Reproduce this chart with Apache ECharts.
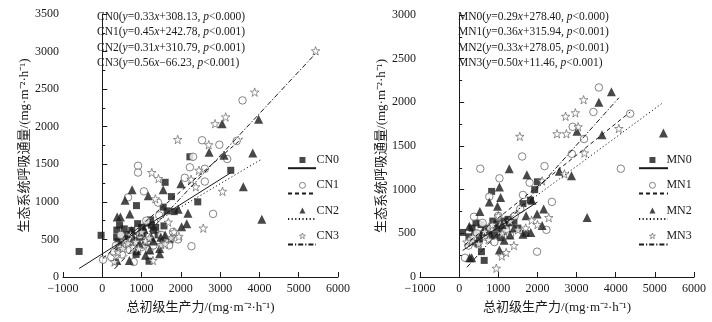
<!DOCTYPE html>
<html>
<head>
<meta charset="utf-8">
<script src="https://cdn.jsdelivr.net/npm/echarts@6/dist/echarts.min.js"></script>
<style>
  html, body { margin: 0; padding: 0; background: #fff; }
  #chart { width: 712px; height: 322px; }
</style>
</head>
<body>
<div id="chart"></div>
<script>
// groups: left panel CN*, right panel MN*
const cnNames = ['CN0', 'CN1', 'CN2', 'CN3']
const mnNames = ['MN0', 'MN1', 'MN2', 'MN3']

// regression coefficients
const cnSlope = [0.33, 0.45, 0.31, 0.56]
const cnIntercept = [308.13, 242.78, 310.79, -66.23]
const cnP = ['0.000', '0.001', '0.001', '0.001']
const mnSlope = [0.29, 0.36, 0.33, 0.50]
const mnIntercept = [278.40, 315.94, 278.05, 11.46]
const mnP = ['0.000', '0.001', '0.001', '0.001']

// [GPP, Re] points
const cn0 = [[-590,340],[-30,555],[370,625],[365,530],[400,470],[440,690],[520,560],[560,640],[610,510],[650,430],[700,570],[750,620],[790,480],[870,950],[860,300],[900,710],[950,530],[1000,660],[1040,600],[1100,460],[1150,720],[1190,210],[1230,760],[1250,690],[1300,620],[1360,660],[1420,560],[1550,460],[1570,680],[1550,930],[1600,1260],[1650,880],[1720,490],[1760,1070],[1830,870],[2230,1600],[2430,1000],[3270,1420]]
const cn1 = [[20,230],[230,265],[300,330],[350,420],[420,380],[470,560],[500,300],[560,460],[610,420],[655,1060],[700,360],[740,480],[800,200],[850,420],[910,1480],[910,1390],[960,560],[1000,400],[1060,1140],[1120,750],[1160,480],[1200,360],[1300,420],[1420,990],[1450,820],[1500,560],[1600,480],[1700,420],[1800,600],[1930,500],[2100,1320],[2230,1460],[2270,410],[2310,1600],[2540,1820],[2610,1440],[2610,1270],[2820,840],[2980,1760],[3180,1570],[3420,1810],[3570,2350]]
const cn2 = [[370,220],[380,800],[440,420],[460,800],[570,500],[580,1020],[690,220],[700,840],[750,620],[760,1160],[800,520],[880,350],[950,440],[1000,600],[1060,640],[1100,290],[1170,1080],[1210,360],[1250,530],[1300,480],[1460,310],[1460,380],[1490,530],[1550,1160],[1600,560],[1930,900],[2000,1240],[2020,670],[2150,710],[2180,850],[2720,1660],[3050,2040],[3100,1620],[3590,1200],[3830,1650],[3980,2100],[4060,770]]
const cn3 = [[310,200],[350,280],[400,330],[450,400],[520,380],[560,480],[650,450],[720,560],[780,400],[850,470],[920,380],[1000,600],[1100,480],[1200,520],[1260,1390],[1290,220],[1350,1040],[1430,1310],[1500,430],[1600,440],[1680,730],[1750,520],[1830,600],[1920,1830],[1950,540],[2260,1300],[2380,1200],[2460,1420],[2570,650],[2710,1760],[2870,2040],[3060,1140],[3140,2130],[3880,2460],[5430,3010]]

const mn0 = [[90,510],[250,460],[300,400],[330,560],[400,500],[430,620],[480,380],[520,440],[560,600],[570,290],[620,480],[640,190],[700,560],[760,520],[830,980],[860,640],[900,480],[950,560],[1000,610],[1050,450],[1100,520],[1150,640],[1200,580],[1250,660],[1300,620],[1400,640],[1500,560],[1630,840],[1700,500],[1820,880],[1930,1000],[2000,1090]]
const mn1 = [[150,220],[240,360],[300,420],[380,690],[450,500],[540,1240],[600,620],[680,460],[770,920],[800,560],[900,400],[1000,700],[1030,1130],[1100,600],[1200,540],[1300,480],[1420,700],[1560,780],[1610,1380],[1630,940],[1800,1080],[1990,290],[2180,1270],[2230,540],[2370,860],[2880,1410],[2900,1720],[3190,1580],[3430,1890],[3570,2170],[4130,1240],[4370,1870]]
const mn2 = [[260,580],[270,220],[320,220],[530,750],[600,520],[770,860],[800,480],[980,810],[1030,1030],[1030,310],[1060,910],[1100,600],[1150,420],[1280,1240],[1300,480],[1400,560],[1630,490],[1710,700],[1730,1170],[1830,510],[1860,880],[1990,720],[2120,590],[2160,780],[2560,1210],[2870,1160],[3010,1670],[3270,680],[3570,2000],[3650,1630],[3890,2120],[5220,1650]]
const mn3 = [[200,400],[350,460],[500,380],[650,520],[750,430],[850,600],[950,100],[1000,700],[1090,240],[1100,500],[1200,280],[1300,640],[1400,360],[1500,540],[1550,1610],[1700,560],[1850,650],[2000,600],[2120,1100],[2290,680],[2500,1640],[2690,1180],[2720,1840],[2740,1640],[2970,1880],[3040,1720],[3180,2030],[3200,1420],[4080,1700]]

const xTicks = { min: -1000, max: 6000, interval: 1000 }
const yMaxLeft = 3500
const yMaxRight = 3000

const serif = '"Liberation Serif", "Times New Roman", "Noto Sans CJK SC", serif'
const ink = '#1a1a1a'
const starPath = 'path://M0,-10L2.35,-3.24L9.51,-3.09L3.8,1.24L5.88,8.09L0,4L-5.88,8.09L-3.8,1.24L-9.51,-3.09L-2.35,-3.24Z'

const markers = [
  { symbol: 'rect', size: 7, itemStyle: { color: ink } },
  { symbol: 'circle', size: 7.5, itemStyle: { color: '#fff', borderColor: '#555', borderWidth: 0.9 } },
  { symbol: 'triangle', size: 9, itemStyle: { color: ink } },
  { symbol: starPath, size: 8.5, itemStyle: { color: '#fff', borderColor: '#555', borderWidth: 0.8 } }
]
const lineTypes = ['solid', [4, 3], [1.2, 2.4], [5, 2, 1.2, 2]]

function plain(v) { return String(v).replace('-', '−') }

function eqText(names, slope, intercept, p) {
  return names.map((n, i) => {
    const b = intercept[i]
    const sign = b >= 0 ? '+' : '−'
    return `${n}({i|y}=${slope[i].toFixed(2)}{i|x}${sign}${Math.abs(b).toFixed(2)}, {i|p}<${p[i]})`
  }).join('\n')
}

function fitLine(pts, a, b) {
  const xs = pts.map(d => d[0])
  const x0 = Math.min(...xs), x1 = Math.max(...xs)
  return [[x0, a * x0 + b], [x1, a * x1 + b]]
}

function panelSeries(names, groups, slope, intercept, idx) {
  const out = []
  groups.forEach((pts, i) => {
    out.push({
      name: names[i], type: 'scatter', xAxisIndex: idx, yAxisIndex: idx,
      symbol: markers[i].symbol, symbolSize: markers[i].size,
      itemStyle: markers[i].itemStyle, data: pts, z: 3
    })
  })
  groups.forEach((pts, i) => {
    out.push({
      name: names[i] + ' fit', type: 'line', xAxisIndex: idx, yAxisIndex: idx,
      symbol: 'none', silent: true, z: 4, color: ink,
      lineStyle: { color: ink, width: 1, type: lineTypes[i] },
      data: fitLine(pts, slope[i], intercept[i])
    })
  })
  return out
}

const unit = '/(mg·m⁻²·h⁻¹)'
function xAxisOf(idx) {
  return {
    gridIndex: idx, type: 'value', ...xTicks,
    name: '总初级生产力' + unit, nameLocation: 'middle', nameGap: 24,
    nameTextStyle: { fontFamily: serif, fontSize: 13, color: ink },
    axisLine: { lineStyle: { color: ink, width: 1 } },
    axisTick: { inside: true, length: 5, lineStyle: { color: ink } },
    axisLabel: { fontFamily: serif, fontSize: 12, color: ink, margin: 6, formatter: plain },
    splitLine: { show: false }
  }
}
function yAxisOf(idx, max) {
  return {
    gridIndex: idx, type: 'value', min: 0, max: max, interval: 500,
    name: '生态系统呼吸通量' + unit, nameLocation: 'middle', nameRotate: 90, nameGap: 30,
    nameTextStyle: { fontFamily: serif, fontSize: 13, color: ink },
    axisLine: { show: true, lineStyle: { color: ink, width: 1 } },
    axisTick: { inside: true, length: 5, lineStyle: { color: ink } },
    minorTick: { show: true, splitNumber: 2, length: 3, lineStyle: { color: ink } },
    axisLabel: { fontFamily: serif, fontSize: 12, color: ink, margin: 4, formatter: plain },
    splitLine: { show: false }
  }
}

function legendPair(names, symLeft, lineLeft, lineW) {
  return [
    {
      data: names.map((n, i) => ({ name: n, itemStyle: markers[i].itemStyle })),
      orient: 'vertical', left: symLeft, top: 149,
      itemWidth: 6, itemHeight: 6, itemGap: 13.3,
      textStyle: { fontFamily: serif, fontSize: 12, color: ink, padding: [0, 0, 0, 6] }
    },
    {
      data: names.map(n => n + ' fit'), orient: 'vertical', left: lineLeft, top: 160,
      itemWidth: lineW, itemHeight: 8, itemGap: 19,
      itemStyle: { opacity: 0 },
      formatter: () => '',
      textStyle: { fontSize: 1, lineHeight: 8 }
    }
  ]
}

const richI = { i: { fontFamily: serif, fontSize: 11.5, fontStyle: 'italic', color: ink } }

const chart = echarts.init(document.getElementById('chart'), null, { renderer: 'canvas' })
chart.setOption({
  animation: false,
  backgroundColor: '#fff',
  title: [
    { text: eqText(cnNames, cnSlope, cnIntercept, cnP), left: 97, top: 9, padding: 0,
      textStyle: { fontFamily: serif, fontSize: 11.5, fontWeight: 'normal', color: ink, lineHeight: 15.5, rich: richI } },
    { text: eqText(mnNames, mnSlope, mnIntercept, mnP), left: 458, top: 9, padding: 0,
      textStyle: { fontFamily: serif, fontSize: 11.5, fontWeight: 'normal', color: ink, lineHeight: 15.5, rich: richI } }
  ],
  legend: [
    ...legendPair(cnNames, 294, 282, 28),
    ...legendPair(mnNames, 644, 633, 29)
  ],
  grid: [
    { left: 63, top: 14, width: 275, height: 263 },
    { left: 420, top: 15, width: 274, height: 262 }
  ],
  xAxis: [xAxisOf(0), xAxisOf(1)],
  yAxis: [yAxisOf(0, yMaxLeft), yAxisOf(1, yMaxRight)],
  series: [
    ...panelSeries(cnNames, [cn0, cn1, cn2, cn3], cnSlope, cnIntercept, 0),
    ...panelSeries(mnNames, [mn0, mn1, mn2, mn3], mnSlope, mnIntercept, 1)
  ]
})
</script>
</body>
</html>
